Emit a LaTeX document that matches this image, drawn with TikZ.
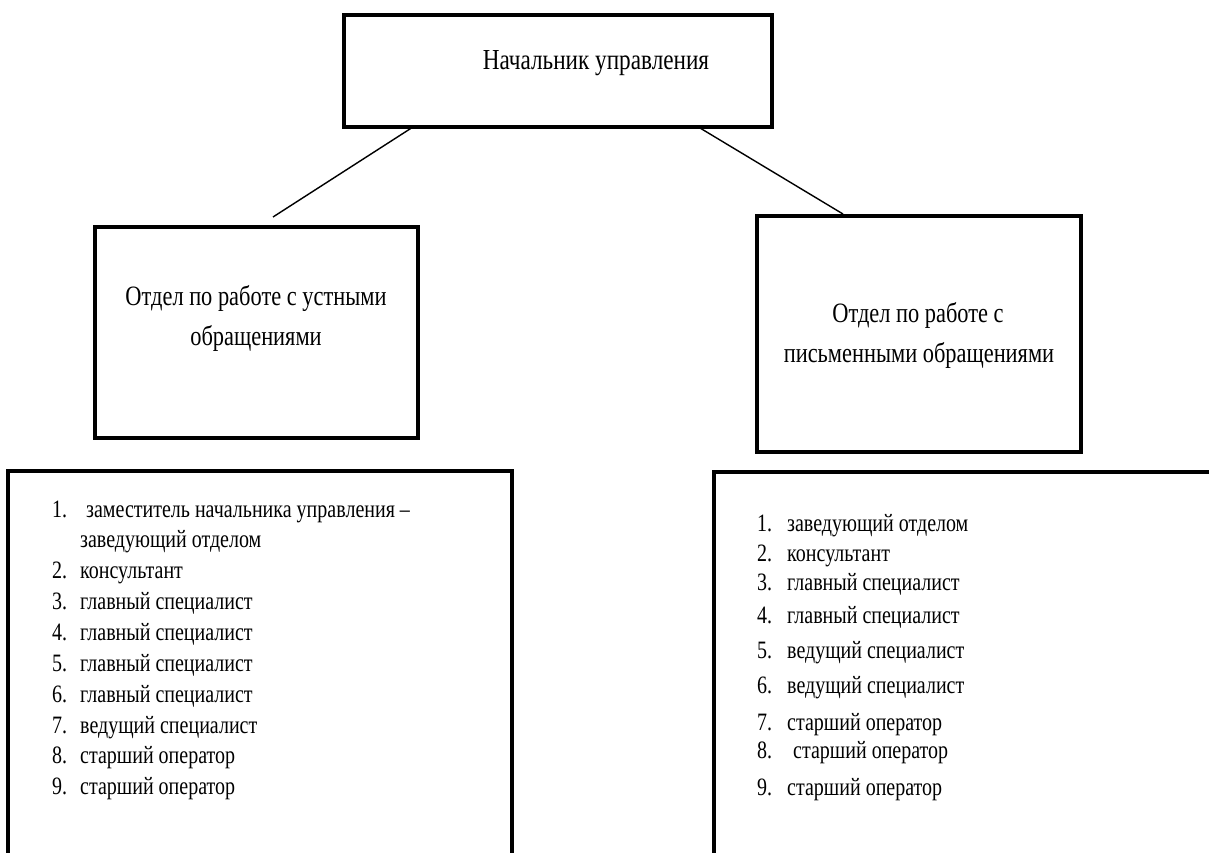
\documentclass[tikz,border=0pt]{standalone}
\usepackage{fontspec}
\setmainfont{Liberation Serif}[FakeStretch=0.8]
\begin{document}
\begin{tikzpicture}[x=1pt,y=-1pt,
  box/.style={draw, line width=3.2pt, inner sep=0pt, outer sep=0pt},
  conn/.style={draw, line width=1.4pt},
  titletxt/.style={inner sep=0pt, anchor=base, font=\fontsize{29}{34}\selectfont},
  midtxt/.style={inner sep=0pt, anchor=base, font=\fontsize{28}{33}\selectfont},
  item/.style={inner sep=0pt, anchor=base west, font=\fontsize{25}{30}\selectfont}]
\useasboundingbox (0,0) rectangle (1209,852);
\clip (0,0) rectangle (1209,852);
% boxes
\node[box, minimum width=428pt, minimum height=112pt] (chief) at (558,71) {};
\node[box, minimum width=323pt, minimum height=211pt] (oral) at (256.5,332.5) {};
\node[box, minimum width=324pt, minimum height=236pt] (written) at (919,334) {};
\node[box, minimum width=504pt, minimum height=460pt] (oralList) at (260,701) {};
\node[box, minimum width=560pt, minimum height=460pt] (writtenList) at (994,702) {};
% connectors
\coordinate (c1) at (413,127);
\coordinate (c2) at (273,217);
\coordinate (c3) at (700,128);
\coordinate (c4) at (843,214);
\draw[conn] (c1) -- (c2);
\draw[conn] (c3) -- (c4);
% texts
\node[titletxt] (t0) at (596,69) {Начальник управления};
\node[midtxt] (t1) at (256,305) {Отдел по работе с устными};
\node[midtxt] (t2) at (256,345) {обращениями};
\node[midtxt] (t3) at (918,322) {Отдел по работе с};
\node[midtxt] (t4) at (919,362) {письменными обращениями};
% left list
\node[item] (ln1) at (52,517) {1.};
\node[item] (lt1) at (86,517) {заместитель начальника управления –};
\node[item] (lt1b) at (80,547) {заведующий отделом};
\node[item] (ln2) at (52,578) {2.};
\node[item] (lt2) at (80,578) {консультант};
\node[item] (ln3) at (52,609) {3.};
\node[item] (lt3) at (80,609) {главный специалист};
\node[item] (ln4) at (52,640) {4.};
\node[item] (lt4) at (80,640) {главный специалист};
\node[item] (ln5) at (52,671) {5.};
\node[item] (lt5) at (80,671) {главный специалист};
\node[item] (ln6) at (52,702) {6.};
\node[item] (lt6) at (80,702) {главный специалист};
\node[item] (ln7) at (52,733) {7.};
\node[item] (lt7) at (80,733) {ведущий специалист};
\node[item] (ln8) at (52,763) {8.};
\node[item] (lt8) at (80,763) {старший оператор};
\node[item] (ln9) at (52,794) {9.};
\node[item] (lt9) at (80,794) {старший оператор};
% right list
\node[item] (rn1) at (757,531) {1.};
\node[item] (rt1) at (787,531) {заведующий отделом};
\node[item] (rn2) at (757,561) {2.};
\node[item] (rt2) at (787,561) {консультант};
\node[item] (rn3) at (757,590) {3.};
\node[item] (rt3) at (787,590) {главный специалист};
\node[item] (rn4) at (757,623) {4.};
\node[item] (rt4) at (787,623) {главный специалист};
\node[item] (rn5) at (757,658) {5.};
\node[item] (rt5) at (787,658) {ведущий специалист};
\node[item] (rn6) at (757,693) {6.};
\node[item] (rt6) at (787,693) {ведущий специалист};
\node[item] (rn7) at (757,730) {7.};
\node[item] (rt7) at (787,730) {старший оператор};
\node[item] (rn8) at (757,758) {8.};
\node[item] (rt8) at (793,758) {старший оператор};
\node[item] (rn9) at (757,795) {9.};
\node[item] (rt9) at (787,795) {старший оператор};
\end{tikzpicture}
\end{document}
